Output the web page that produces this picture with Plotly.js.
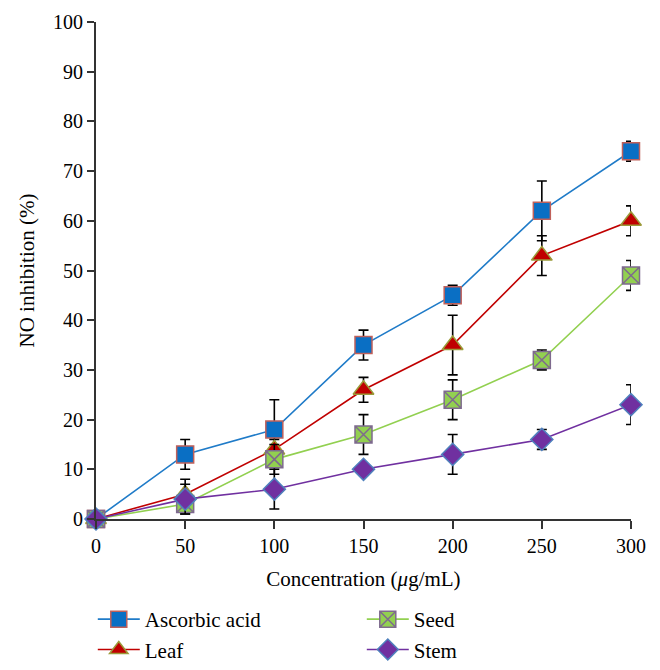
<!DOCTYPE html>
<html><head><meta charset="utf-8">
<script src="https://cdn.plot.ly/plotly-3.0.1.min.js"></script>
<style>body{margin:0;background:#fff}#chart{width:660px;height:670px}</style>
</head><body><div id="chart"></div>
<script>
const conc = [0, 50, 100, 150, 200, 250, 300];
const ascorbic = [0, 13, 18, 35, 45, 62, 74];
const ascorbicErr = [0, 3, 6, 3, 2, 6, 2];
const leaf = [0, 5, 14, 26, 35, 53, 60];
const leafErr = [0, 3, 2, 2.5, 6, 4, 3];
const seed = [0, 3, 12, 17, 24, 32, 49];
const seedErr = [0, 2, 3, 4, 4, 2, 3];
const stem = [0, 4, 6, 10, 13, 16, 23];
const stemErr = [0, 3, 4, 1, 4, 2, 4];
const yTicks = [0, 10, 20, 30, 40, 50, 60, 70, 80, 90, 100];
const xTicks = [0, 50, 100, 150, 200, 250, 300];

const font = "'Liberation Serif', 'Times New Roman', serif";
function err(a){return {type:'data', array:a, visible:true, color:'#000', thickness:1.6, width:5};}
const traces = [
 {x:conc, y:ascorbic, name:'Ascorbic acid', legendrank:1, mode:'lines+markers', error_y:err(ascorbicErr),
  line:{color:'#1F7BC8', width:1.6}, marker:{symbol:'square', size:17, color:'#0A6FC4', line:{color:'#C0605A', width:1.5}}},
 {x:conc, y:leaf, name:'Leaf', legendrank:3, mode:'lines+markers', error_y:err(leafErr),
  line:{color:'#C00000', width:1.6}, marker:{symbol:'triangle-up', size:18, color:'#C00000', line:{color:'#9B9B3A', width:1.5}}},
 {x:conc, y:seed, name:'Seed', legendrank:2, mode:'lines+markers', error_y:err(seedErr),
  line:{color:'#92D050', width:1.6}, marker:{symbol:'square-x', size:17, color:'#92D050', line:{color:'#7E6A8E', width:1.5}}},
 {x:conc, y:stem, name:'Stem', legendrank:4, mode:'lines+markers', error_y:err(stemErr),
  line:{color:'#7030A0', width:1.6}, marker:{symbol:'diamond', size:17, color:'#7030A0', line:{color:'#4F81BD', width:1.5}}}
];
const layout = {
 width:660, height:670,
 margin:{l:96, r:29, t:22, b:151, autoexpand:false},
 paper_bgcolor:'#fff', plot_bgcolor:'#fff',
 font:{family:font, size:20, color:'#000'},
 showlegend:true,
 legend:{orientation:'h', x:-0.006, xanchor:'left', y:-0.161, yanchor:'top', entrywidth:212, entrywidthmode:'pixels',
   font:{family:font, size:21}, traceorder:'normal', tracegroupgap:0, itemwidth:42},
 xaxis:{range:[0,300], tickvals:xTicks, ticktext:xTicks.map(String), showgrid:false, zeroline:false,
   showline:true, linecolor:'#333', linewidth:2, ticks:'outside', ticklen:8, tickwidth:2, tickcolor:'#333',
   tickfont:{family:font, size:20},
   title:{text:'Concentration (<i>μ</i>g/mL)', font:{family:font, size:21}, standoff:15}},
 yaxis:{range:[0,100], tickvals:yTicks, ticktext:yTicks.map(String), showgrid:false, zeroline:false,
   showline:true, linecolor:'#333', linewidth:2, ticks:'outside', ticklen:7, tickwidth:2, tickcolor:'#333',
   tickfont:{family:font, size:20},
   title:{text:'NO inhibition (%)', font:{family:font, size:21}, standoff:13}}
};
traces.forEach(t=>{t.cliponaxis=false;});
Plotly.newPlot('chart', traces, layout, {displayModeBar:false, staticPlot:true});
</script></body></html>
